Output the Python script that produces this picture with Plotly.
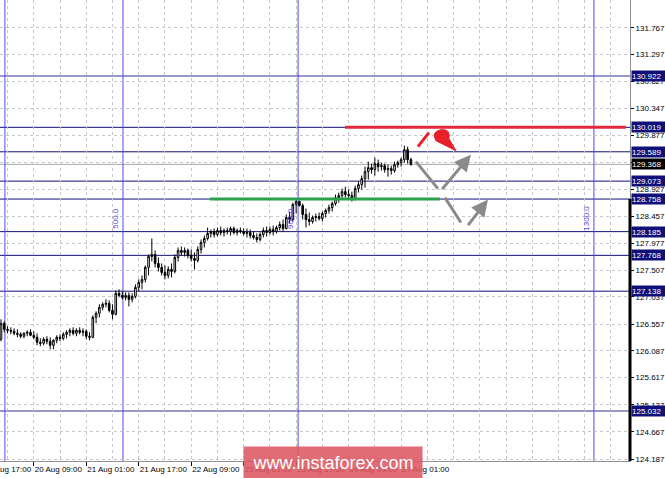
import plotly.graph_objects as go

# hourly bars (bar index), prices
bars = list(range(126))

opens = [126.292, 126.573, 126.468, 126.450, 126.433, 126.397, 126.380, 126.345, 126.397, 126.415,
         126.362, 126.327, 126.240, 126.222, 126.292, 126.257, 126.187, 126.275, 126.327, 126.310,
         126.380, 126.415, 126.450, 126.397, 126.450, 126.415, 126.433, 126.345, 126.327, 126.678,
         126.749, 126.854, 126.907, 126.924, 126.801, 126.731, 127.100, 127.064, 127.029, 127.064,
         126.994, 127.047, 127.205, 127.293, 127.345, 127.556, 127.749, 127.784, 127.626, 127.556,
         127.468, 127.415, 127.521, 127.486, 127.731, 127.854, 127.819, 127.854, 127.766, 127.714,
         127.679, 127.872, 127.994, 128.064, 128.152, 128.187, 128.135, 128.205, 128.170, 128.205,
         128.187, 128.240, 128.170, 128.205, 128.187, 128.152, 128.170, 128.117, 128.082, 128.047,
         128.135, 128.205, 128.170, 128.222, 128.187, 128.257, 128.310, 128.240, 128.433, 128.398,
         128.661, 128.714, 128.643, 128.486, 128.398, 128.363, 128.433, 128.450, 128.415, 128.503,
         128.556, 128.608, 128.679, 128.784, 128.819, 128.889, 128.837, 128.819, 128.766, 128.942,
         129.012, 129.117, 129.240, 129.310, 129.275, 129.381, 129.328, 129.345, 129.275, 129.293,
         129.258, 129.363, 129.398, 129.451, 129.626, 129.451]

highs = [126.643, 126.608, 126.521, 126.503, 126.485, 126.468, 126.415, 126.415, 126.450, 126.468,
         126.433, 126.397, 126.310, 126.327, 126.345, 126.327, 126.292, 126.362, 126.380, 126.415,
         126.450, 126.485, 126.503, 126.485, 126.503, 126.485, 126.468, 126.415, 126.714, 126.784,
         126.907, 126.942, 126.994, 126.977, 126.907, 127.152, 127.170, 127.135, 127.117, 127.117,
         127.100, 127.258, 127.345, 127.415, 127.591, 127.784, 128.064, 127.854, 127.731, 127.626,
         127.591, 127.573, 127.626, 127.784, 127.907, 127.924, 127.907, 127.889, 127.872, 127.819,
         127.924, 128.047, 128.117, 128.257, 128.222, 128.240, 128.257, 128.275, 128.240, 128.257,
         128.275, 128.275, 128.240, 128.257, 128.240, 128.240, 128.222, 128.187, 128.152, 128.170,
         128.257, 128.275, 128.275, 128.292, 128.292, 128.363, 128.398, 128.486, 128.538, 128.696,
         128.749, 128.731, 128.679, 128.591, 128.521, 128.468, 128.503, 128.521, 128.538, 128.591,
         128.661, 128.714, 128.837, 128.872, 128.942, 128.977, 128.924, 128.889, 128.994, 129.065,
         129.170, 129.328, 129.416, 129.381, 129.486, 129.451, 129.398, 129.381, 129.363, 129.345,
         129.416, 129.433, 129.486, 129.696, 129.679, 129.486]

lows = [126.257, 126.415, 126.397, 126.380, 126.362, 126.327, 126.310, 126.310, 126.345, 126.345,
        126.292, 126.187, 126.169, 126.187, 126.205, 126.117, 126.117, 126.222, 126.257, 126.275,
        126.310, 126.345, 126.362, 126.345, 126.380, 126.345, 126.292, 126.275, 126.310, 126.573,
        126.678, 126.801, 126.854, 126.766, 126.643, 126.714, 127.029, 126.994, 126.977, 126.872,
        126.942, 127.012, 127.135, 127.170, 127.293, 127.415, 127.661, 127.556, 127.486, 127.415,
        127.345, 127.363, 127.380, 127.451, 127.661, 127.766, 127.749, 127.714, 127.661, 127.521,
        127.644, 127.801, 127.907, 128.029, 128.082, 128.082, 128.099, 128.117, 128.099, 128.135,
        128.117, 128.135, 128.117, 128.152, 128.117, 128.082, 128.064, 128.047, 127.994, 128.012,
        128.082, 128.099, 128.135, 128.117, 128.152, 128.205, 128.187, 128.222, 128.328, 128.363,
        128.503, 128.626, 128.398, 128.257, 128.292, 128.328, 128.363, 128.380, 128.363, 128.433,
        128.503, 128.538, 128.643, 128.696, 128.766, 128.784, 128.749, 128.714, 128.731, 128.872,
        128.924, 128.959, 129.100, 129.205, 129.170, 129.240, 129.258, 129.223, 129.152, 129.188,
        129.223, 129.310, 129.328, 129.398, 129.381, 129.345]

closes = [126.573, 126.468, 126.450, 126.433, 126.397, 126.380, 126.345, 126.397, 126.415, 126.362,
          126.327, 126.240, 126.222, 126.292, 126.257, 126.187, 126.275, 126.327, 126.310, 126.380,
          126.415, 126.450, 126.397, 126.450, 126.415, 126.433, 126.345, 126.327, 126.678, 126.749,
          126.854, 126.907, 126.924, 126.801, 126.731, 127.100, 127.064, 127.029, 127.064, 126.994,
          127.047, 127.205, 127.293, 127.345, 127.556, 127.749, 127.784, 127.626, 127.556, 127.468,
          127.415, 127.521, 127.486, 127.731, 127.854, 127.819, 127.854, 127.766, 127.714, 127.679,
          127.872, 127.994, 128.064, 128.152, 128.187, 128.135, 128.205, 128.170, 128.205, 128.187,
          128.240, 128.170, 128.205, 128.187, 128.152, 128.170, 128.117, 128.082, 128.047, 128.135,
          128.205, 128.170, 128.222, 128.187, 128.257, 128.310, 128.240, 128.433, 128.398, 128.661,
          128.714, 128.643, 128.486, 128.398, 128.363, 128.433, 128.450, 128.415, 128.503, 128.556,
          128.608, 128.679, 128.784, 128.819, 128.889, 128.837, 128.819, 128.766, 128.942, 129.012,
          129.117, 129.240, 129.310, 129.275, 129.381, 129.328, 129.345, 129.275, 129.293, 129.258,
          129.363, 129.398, 129.451, 129.626, 129.451, 129.368]

date_bars = [-6, 10, 26, 42, 58, 74, 90, 106, 122]
date_labels = ["17 Aug 17:00", "20 Aug 09:00", "21 Aug 01:00", "21 Aug 17:00", "22 Aug 09:00",
               "23 Aug 01:00", "23 Aug 17:00", "24 Aug 09:00", "27 Aug 01:00"]
grid_bars = list(range(-6, 192, 8))

price_ticks = [131.767, 131.297, 130.827, 130.347, 129.877, 129.407, 128.927, 128.457, 127.977,
               127.507, 127.037, 126.557, 126.087, 125.617, 125.137, 124.667, 124.187]

levels = [130.922, 130.019, 129.589, 129.073, 128.758, 128.185, 127.768, 127.138, 125.032]
faint_levels = [130.922, 125.032]
last_price = 129.368

vline_bars = [1.2, 37.2, 90.6, 180.8]
vline_labels = ["", "500.0", "900.0", "1300.0"]

resistance = 130.019
support = 128.758

X_RANGE = [-0.3, 191.8]
Y_RANGE = [124.152, 132.258]
FONT = "Liberation Sans"
NAVY = "#10107a"
GRID = "#c8c8c8"

fig = go.Figure()
fig.add_trace(go.Candlestick(
    x=bars, open=opens, high=highs, low=lows, close=closes,
    increasing=dict(line=dict(color="black", width=1), fillcolor="white"),
    decreasing=dict(line=dict(color="black", width=1), fillcolor="black"),
    whiskerwidth=0, showlegend=False, hoverinfo="skip"))

shapes = []
annotations = []

# level lines
for lv in levels:
    faint = lv in faint_levels
    shapes.append(dict(type="line", xref="paper", x0=0, x1=1, yref="y", y0=lv, y1=lv,
                       line=dict(color="#7676bd" if faint else NAVY, width=1.5 if faint else 1),
                       layer="below"))
    annotations.append(dict(xref="paper", x=1, xanchor="left", xshift=1, yref="y", y=lv,
                            text=f"{lv:.3f}", showarrow=False, bgcolor=NAVY, width=33, height=10,
                            align="left", borderpad=0,
                            font=dict(family=FONT, size=8, color="white")))

shapes.append(dict(type="line", xref="paper", x0=0, x1=1, yref="y", y0=last_price, y1=last_price,
                   line=dict(color="#a8a8a8", width=1), layer="below"))
annotations.append(dict(xref="paper", x=1, xanchor="left", xshift=1, yref="y", y=last_price,
                        text=f"{last_price:.3f}", showarrow=False, bgcolor="black", width=33,
                        height=10, align="left", borderpad=0,
                        font=dict(family=FONT, size=8, color="white")))

# first date label sits left of the visible range, so draw it as text in paper units
first_pos = (date_bars[0] - X_RANGE[0]) / (X_RANGE[1] - X_RANGE[0])
annotations.append(dict(xref="paper", x=first_pos, xanchor="left", xshift=1, yref="paper", y=0,
                        yanchor="top", yshift=-2, text=date_labels[0], showarrow=False,
                        font=dict(family=FONT, size=8, color="black")))

# vertical blue lines with labels
for vb, lab in zip(vline_bars, vline_labels):
    shapes.append(dict(type="line", xref="x", x0=vb, x1=vb, yref="paper", y0=0, y1=1,
                       line=dict(color="#4b4bf5", width=1), layer="below"))
    if lab:
        annotations.append(dict(xref="x", x=vb, xanchor="right", xshift=-1, yref="y", y=128.42,
                                text=lab, textangle=-90, showarrow=False,
                                font=dict(family=FONT, size=8, color="#5b4ee0")))

# resistance / support
shapes.append(dict(type="line", xref="x", x0=104.9, x1=190.5, yref="y", y0=resistance, y1=resistance,
                   line=dict(color="#e3283a", width=3)))
shapes.append(dict(type="line", xref="x", x0=63.7, x1=133.8, yref="y", y0=support, y1=support,
                   line=dict(color="#2ca04a", width=3)))

# right border (black below support)
shapes.append(dict(type="line", xref="paper", x0=1, x1=1, yref="y", y0=support, y1=Y_RANGE[0],
                   line=dict(color="black", width=3)))

# forecast sketch
shapes.append(dict(type="line", x0=126.52, y0=129.416, x1=133.23, y1=128.942,
                   line=dict(color="#8a8a8a", width=3)))
shapes.append(dict(type="line", x0=135.37, y0=128.784, x1=140.24, y1=128.346,
                   line=dict(color="#8a8a8a", width=3)))
shapes.append(dict(type="line", x0=127.13, y0=129.679, x1=130.49, y1=129.925,
                   line=dict(color="#e8202a", width=3)))
shapes.append(dict(type="path",
                   path="M 138.72,129.609 L 132.62,129.784 Q 131.10,129.942 134.15,129.977 "
                        "Q 137.2,129.995 136.59,129.819 Z",
                   fillcolor="#e8202a", line=dict(color="#e8202a", width=1)))
annotations.append(dict(x=143.29, y=129.539, ax=-30, ay=36, text="", showarrow=True,
                        arrowhead=2, arrowsize=1.1, arrowwidth=3, arrowcolor="#8a8a8a", standoff=0))
annotations.append(dict(x=148.48, y=128.749, ax=-21, ay=27, text="", showarrow=True,
                        arrowhead=2, arrowsize=1.1, arrowwidth=3, arrowcolor="#8a8a8a", standoff=0))

# watermark
annotations.append(dict(xref="paper", x=0.529, yref="paper", y=-0.003, xanchor="center",
                        yanchor="middle", text="www.instaforex.com", showarrow=False,
                        bgcolor="rgba(221,88,98,0.88)", width=178, height=31, borderpad=0,
                        font=dict(family=FONT, size=18, color="white")))

fig.update_layout(
    width=665, height=478,
    margin=dict(l=0, r=35, t=0, b=17),
    paper_bgcolor="white", plot_bgcolor="white",
    showlegend=False,
    shapes=shapes, annotations=annotations,
    xaxis=dict(range=X_RANGE, tickmode="array", tickvals=date_bars, ticktext=date_labels,
               ticks="outside", ticklen=4, tickcolor="black", ticklabelposition="outside right",
               tickangle=0,
               tickfont=dict(family=FONT, size=8, color="black"),
               showgrid=True, gridcolor=GRID, griddash="3px,3px", gridwidth=1,
               minor=dict(tickvals=grid_bars, showgrid=True, gridcolor=GRID,
                          griddash="3px,3px", ticks=""),
               showline=True, linecolor="#909090", linewidth=1, zeroline=False,
               rangeslider=dict(visible=False)),
    yaxis=dict(range=Y_RANGE, side="right", tickmode="array", tickvals=price_ticks,
               ticktext=[f"{v:.3f}" for v in price_ticks],
               ticks="outside", ticklen=3, tickcolor="black",
               tickfont=dict(family=FONT, size=8, color="black"),
               showgrid=True, gridcolor=GRID, griddash="3px,3px", gridwidth=1,
               showline=True, linecolor="#909090", linewidth=1, zeroline=False),
)

fig.write_html("out.html", config={"displayModeBar": False},
               post_script="document.body.style.margin='0';")
